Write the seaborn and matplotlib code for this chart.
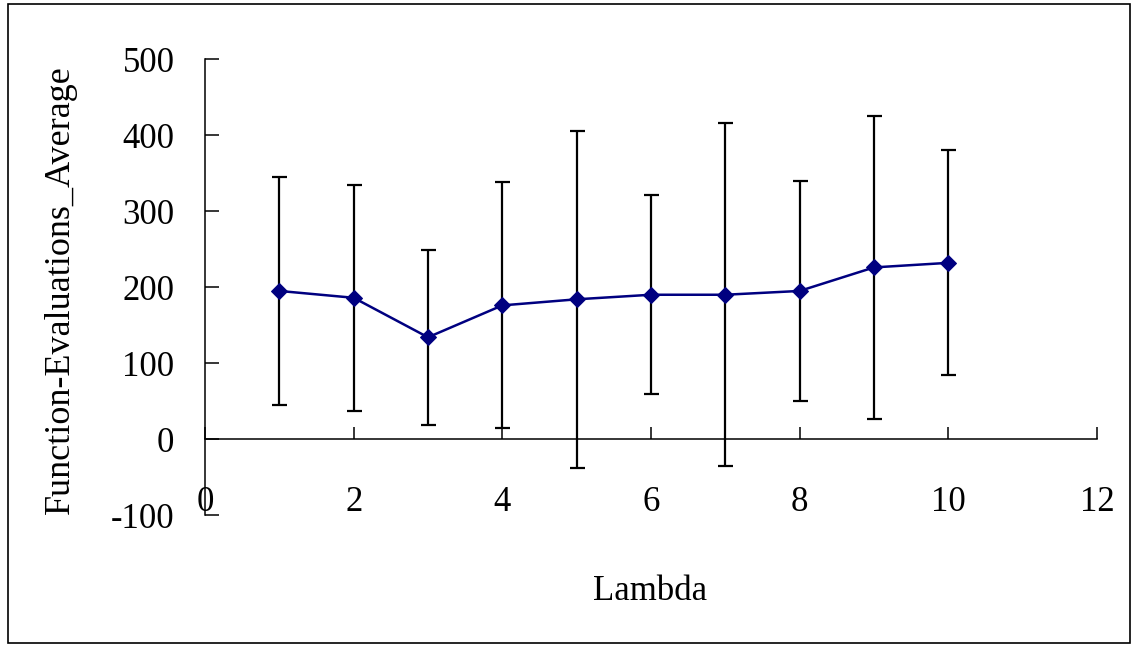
import matplotlib
matplotlib.use("Agg")
import matplotlib.pyplot as plt
import seaborn as sns
import pandas as pd
from matplotlib.patches import Rectangle

lambdas = [1, 2, 3, 4, 5, 6, 7, 8, 9, 10]
means = [195, 186, 134, 176, 184, 190, 190, 195, 226, 232]
errors = [150, 149, 115, 162, 222, 131, 226, 145, 199, 148]
x_ticks = [0, 2, 4, 6, 8, 10, 12]
y_ticks = [-100, 0, 100, 200, 300, 400, 500]

sns.set_style("white")
plt.rcParams['font.family'] = ['Liberation Serif', 'DejaVu Serif']
plt.rcParams['text.color'] = 'black'
plt.rcParams['xtick.color'] = 'black'
plt.rcParams['ytick.color'] = 'black'
plt.rcParams['axes.labelcolor'] = 'black'

df = pd.DataFrame({"Lambda": lambdas, "Mean": means, "Err": errors})

fig = plt.figure(figsize=(11.35, 6.46), dpi=100)
ax = fig.add_axes([205/1135, 1-515/646, (1097-205)/1135, (515-59.3)/646])

ax.errorbar(df["Lambda"], df["Mean"], yerr=df["Err"], fmt='none', ecolor='black',
            elinewidth=1.6, capsize=5.4, capthick=1.6, zorder=2)
sns.lineplot(data=df, x="Lambda", y="Mean", ax=ax, color='#000080', marker='D',
             markersize=8, markeredgecolor='#000080', linewidth=1.8, zorder=3)

ax.set_xlim(0, 12)
ax.set_ylim(-100, 500)
ax.set_xticks(x_ticks)
ax.set_yticks(y_ticks)
ax.set_xticklabels([str(v) for v in x_ticks])
ax.set_yticklabels([str(v) for v in y_ticks])

ax.spines['top'].set_visible(False)
ax.spines['right'].set_visible(False)
ax.spines['bottom'].set_position(('data', 0))
for s in ['left', 'bottom']:
    ax.spines[s].set_color('black')
    ax.spines[s].set_linewidth(1.1)

ax.tick_params(axis='x', direction='in', length=8.6, width=1.1, color='black',
               labelcolor='black', labelsize=25, pad=34, bottom=True)
ax.tick_params(axis='y', direction='in', length=10, width=1.1, color='black',
               labelcolor='black', labelsize=25, pad=22, left=True)

ax.set_xlabel("")
ax.set_ylabel("")
fig.text(650/1135, 1-592/646, "Lambda", fontsize=25, ha='center', va='center',
         color='black')
fig.text(60/1135, 1-290/646, "Function-Evaluations_Average", fontsize=26,
         ha='center', va='center', rotation=90, color='black')

fig.patches.append(Rectangle((8/1135, 1-643/646), (1130-8)/1135, (643-4)/646,
                             transform=fig.transFigure, fill=False,
                             edgecolor='black', linewidth=1.2))

fig.savefig("out.png", dpi=100, facecolor='white')
